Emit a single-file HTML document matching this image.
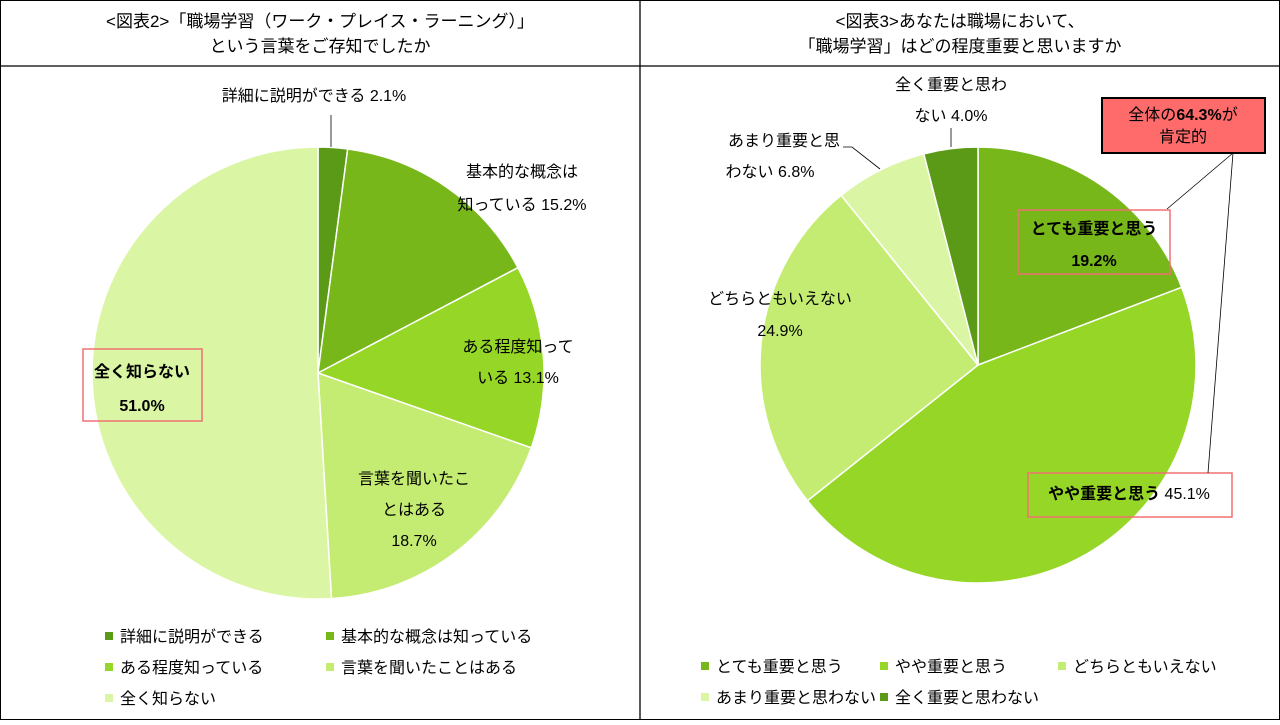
<!DOCTYPE html>
<html><head><meta charset="utf-8"><style>
html,body{margin:0;padding:0;background:#fff;}
svg text{font-family:"Liberation Sans","Noto Sans CJK JP",sans-serif;fill:#000;}
</style></head><body>
<svg id="s" width="1280" height="720" xmlns="http://www.w3.org/2000/svg">
<rect x="0.5" y="0.5" width="1279" height="719" fill="#fff" stroke="#000" stroke-width="1"/>
<line x1="640" y1="0" x2="640" y2="720" stroke="#000" stroke-width="1.3"/>
<line x1="0" y1="66" x2="1280" y2="66" stroke="#000" stroke-width="1.3"/>
<g font-size="17" text-anchor="middle">
<text x="320" y="27">&lt;図表2&gt;「職場学習（ワーク・プレイス・ラーニング）」</text>
<text x="320" y="52">という言葉をご存知でしたか</text>
<text x="960" y="27">&lt;図表3&gt;あなたは職場において、</text>
<text x="960" y="52">「職場学習」はどの程度重要と思いますか</text>
</g>
<g id="p1"></g><g id="p2"></g>
<g font-size="16" text-anchor="middle">
<text x="314" y="101">詳細に説明ができる 2.1%</text>
<text x="522" y="177">基本的な概念は</text>
<text x="522" y="210">知っている 15.2%</text>
<text x="518" y="352">ある程度知って</text>
<text x="518" y="383">いる 13.1%</text>
<text x="414" y="484">言葉を聞いたこ</text>
<text x="414" y="515">とはある</text>
<text x="414" y="546">18.7%</text>
<text x="142" y="377" font-weight="bold">全く知らない</text>
<text x="142" y="411" font-weight="bold">51.0%</text>
<text x="951" y="90">全く重要と思わ</text>
<text x="951" y="121">ない 4.0%</text>
<text x="784" y="146">あまり重要と思</text>
<text x="770" y="177">わない 6.8%</text>
<text x="780" y="304">どちらともいえない</text>
<text x="780" y="336">24.9%</text>
<text x="1094" y="234" font-weight="bold">とても重要と思う</text>
<text x="1094" y="266" font-weight="bold">19.2%</text>
<text x="1129" y="499"><tspan font-weight="bold">やや重要と思う</tspan> 45.1%</text>
</g>
<line x1="331" y1="115" x2="331" y2="147" stroke="#000" stroke-width="0.8"/>
<line x1="951" y1="128" x2="951" y2="147" stroke="#000" stroke-width="0.8"/>
<polyline points="843,147 852,147 880,169" fill="none" stroke="#000" stroke-width="0.8"/>
<rect x="83" y="349" width="119" height="72" fill="none" stroke="#f07070" stroke-width="1.5"/>
<rect x="1018" y="210" width="152" height="64" fill="none" stroke="#f07070" stroke-width="1.5"/>
<rect x="1028" y="473" width="204" height="44" fill="none" stroke="#f07070" stroke-width="1.5"/>
<line x1="1233" y1="153" x2="1167" y2="209" stroke="#000" stroke-width="0.8"/>
<line x1="1233" y1="153" x2="1208" y2="473" stroke="#000" stroke-width="0.8"/>
<rect x="1102" y="98" width="163" height="55" fill="#ff6b6b" stroke="#000" stroke-width="2"/>
<g font-size="16" text-anchor="middle">
<text x="1183" y="120">全体の<tspan font-weight="bold">64.3%</tspan>が</text>
<text x="1183" y="142">肯定的</text>
</g>
<g font-size="16">
<rect x="105" y="632" width="8" height="8" fill="#5b9a16"/><text x="120" y="642">詳細に説明ができる</text>
<rect x="326" y="632" width="8" height="8" fill="#77b71a"/><text x="341" y="642">基本的な概念は知っている</text>
<rect x="105" y="663" width="8" height="8" fill="#95d626"/><text x="120" y="673">ある程度知っている</text>
<rect x="326" y="663" width="8" height="8" fill="#c4ec72"/><text x="341" y="673">言葉を聞いたことはある</text>
<rect x="105" y="694" width="8" height="8" fill="#daf6a4"/><text x="120" y="704">全く知らない</text>
<rect x="701" y="662" width="8" height="8" fill="#77b71a"/><text x="716" y="672">とても重要と思う</text>
<rect x="880" y="662" width="8" height="8" fill="#95d626"/><text x="895" y="672">やや重要と思う</text>
<rect x="1058" y="662" width="8" height="8" fill="#c4ec72"/><text x="1073" y="672">どちらともいえない</text>
<rect x="701" y="693" width="8" height="8" fill="#daf6a4"/><text x="716" y="703">あまり重要と思わない</text>
<rect x="880" y="693" width="8" height="8" fill="#5b9a16"/><text x="895" y="703">全く重要と思わない</text>
</g>
</svg>
<script>
function pie(id,cx,cy,r,vals,cols){
 var g=document.getElementById(id),a=0,tot=vals.reduce((x,y)=>x+y,0),h='';
 for(var i=0;i<vals.length;i++){
  var a0=a/tot*2*Math.PI;a+=vals[i];var a1=a/tot*2*Math.PI;
  var x0=cx+r*Math.sin(a0),y0=cy-r*Math.cos(a0),x1=cx+r*Math.sin(a1),y1=cy-r*Math.cos(a1);
  var lg=(a1-a0)>Math.PI?1:0;
  h+='<path d="M'+cx+','+cy+' L'+x0+','+y0+' A'+r+','+r+' 0 '+lg+' 1 '+x1+','+y1+' Z" fill="'+cols[i]+'" stroke="#fff" stroke-width="1.5"/>';
 }
 g.innerHTML=h;
}
pie('p1',318,373,226,[2.1,15.2,13.1,18.7,51.0],['#5b9a16','#77b71a','#95d626','#c4ec72','#daf6a4']);
pie('p2',978,365,218,[19.2,45.1,24.9,6.8,4.0],['#77b71a','#95d626','#c4ec72','#daf6a4','#5b9a16']);
</script>
</body></html>
